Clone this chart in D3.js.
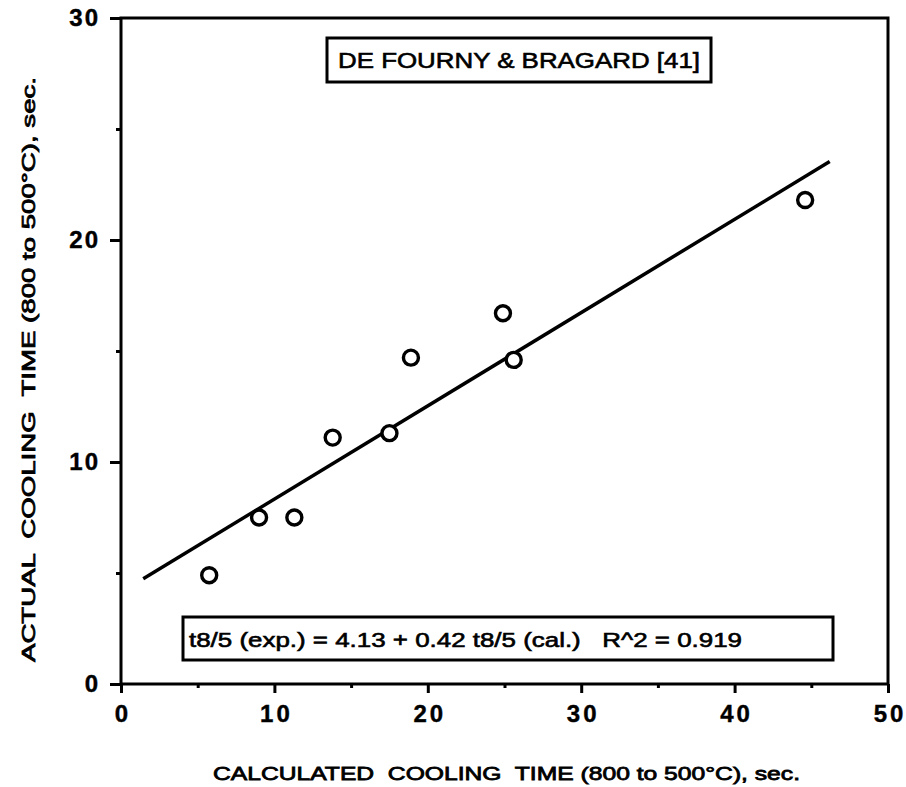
<!DOCTYPE html>
<html>
<head>
<meta charset="utf-8">
<script src="https://cdn.jsdelivr.net/npm/d3@7"></script>
<style>
  html, body { margin: 0; padding: 0; background: #fff; }
  svg { display: block; }
  text { font-family: "Liberation Sans", Arial, Helvetica, sans-serif; fill: #000; white-space: pre; }
</style>
</head>
<body>
<svg id="chart" width="906" height="787"></svg>
<script>
// Calculated vs. actual t8/5 cooling times (s)
const calculated = [5.75, 9.0, 11.3, 13.8, 17.5, 18.9, 24.9, 25.6, 44.6];
const actual     = [4.9, 7.5, 7.5, 11.1, 11.3, 14.7, 16.7, 14.6, 21.8];

// Fitted relation printed in the lower box
const fitIntercept = 4.13;
const fitSlope = 0.42;
const fitR2 = 0.919;
const fitRange = [1.45, 46.2];

const xMajorTicks = [0, 10, 20, 30, 40, 50];
const xMinorTicks = [5, 15, 25, 35, 45];
const yMajorTicks = [0, 10, 20, 30];
const yMinorTicks = [5, 15, 25];

const titleText = "DE FOURNY & BRAGARD [41]";
const xTitle = "CALCULATED  COOLING  TIME (800 to 500\u00B0C), sec.";
const yTitle = "ACTUAL  COOLING  TIME (800 to 500\u00B0C), sec.";

const svg = d3.select("#chart");
const x = d3.scaleLinear().domain([0, 50]).range([121, 888]);
const y = d3.scaleLinear().domain([0, 30]).range([684, 18]);

// Frame
svg.append("rect")
  .attr("x", x(0)).attr("y", y(30))
  .attr("width", x(50) - x(0)).attr("height", y(0) - y(30))
  .attr("fill", "none").attr("stroke", "#000").attr("stroke-width", 3);

// X axis (ticks outward, minor ticks short)
const gx = svg.append("g").attr("transform", `translate(0,${y(0)})`);
gx.call(d3.axisBottom(x).tickValues(xMajorTicks).tickSize(9).tickPadding(12).tickFormat(d3.format("d")))
  .call(g => g.select(".domain").remove())
  .call(g => g.selectAll(".tick line").attr("stroke-width", 3))
  .call(g => g.selectAll(".tick text")
    .style("font-size", "24px").style("font-weight", "bold")
    .attr("letter-spacing", 3).attr("dx", 1.5)
    .attr("stroke", "#000").attr("stroke-width", 0.4));
gx.append("g").call(d3.axisBottom(x).tickValues(xMinorTicks).tickSize(4).tickFormat(""))
  .call(g => g.select(".domain").remove())
  .call(g => g.selectAll(".tick line").attr("stroke-width", 3));

// Y axis
const gy = svg.append("g").attr("transform", `translate(${x(0)},0)`);
gy.call(d3.axisLeft(y).tickValues(yMajorTicks).tickSize(11).tickPadding(10).tickFormat(d3.format("d")))
  .call(g => g.select(".domain").remove())
  .call(g => g.selectAll(".tick line").attr("stroke-width", 3))
  .call(g => g.selectAll(".tick text")
    .style("font-size", "24px").style("font-weight", "bold")
    .attr("letter-spacing", 2)
    .attr("stroke", "#000").attr("stroke-width", 0.4));
gy.append("g").call(d3.axisLeft(y).tickValues(yMinorTicks).tickSize(5).tickFormat(""))
  .call(g => g.select(".domain").remove())
  .call(g => g.selectAll(".tick line").attr("stroke-width", 3));

// Regression line
const line = d3.line().x(d => x(d)).y(d => y(fitIntercept + fitSlope * d));
svg.append("path")
  .datum(fitRange)
  .attr("d", line)
  .attr("fill", "none").attr("stroke", "#000").attr("stroke-width", 3.5);

// Observations
svg.append("g").selectAll("circle")
  .data(calculated.map((c, i) => [c, actual[i]]))
  .join("circle")
  .attr("cx", d => x(d[0])).attr("cy", d => y(d[1]))
  .attr("r", 7.5)
  .attr("fill", "#fff").attr("stroke", "#000").attr("stroke-width", 3.4);

// Source box
svg.append("rect")
  .attr("x", 327).attr("y", 38).attr("width", 384).attr("height", 44)
  .attr("fill", "#fff").attr("stroke", "#000").attr("stroke-width", 3);
svg.append("text")
  .attr("x", 338).attr("y", 68)
  .attr("font-size", 22)
  .attr("stroke", "#000").attr("stroke-width", 0.6)
  .attr("textLength", 362).attr("lengthAdjust", "spacingAndGlyphs")
  .text(titleText);

// Equation box
svg.append("rect")
  .attr("x", 183).attr("y", 617).attr("width", 650).attr("height", 43)
  .attr("fill", "#fff").attr("stroke", "#000").attr("stroke-width", 3);
svg.append("text")
  .attr("x", 189).attr("y", 647)
  .attr("font-size", 20)
  .attr("stroke", "#000").attr("stroke-width", 0.6)
  .attr("textLength", 553).attr("lengthAdjust", "spacingAndGlyphs")
  .text(`t8/5 (exp.) = ${fitIntercept.toFixed(2)} + ${fitSlope.toFixed(2)} t8/5 (cal.)   R^2 = ${fitR2}`);

// Axis titles
svg.append("text")
  .attr("x", 213).attr("y", 780)
  .attr("font-size", 19)
  .attr("stroke", "#000").attr("stroke-width", 0.8)
  .attr("textLength", 587).attr("lengthAdjust", "spacingAndGlyphs")
  .text(xTitle);

svg.append("text")
  .attr("transform", "translate(35,662) rotate(-90)")
  .attr("font-size", 19)
  .attr("stroke", "#000").attr("stroke-width", 0.8)
  .attr("textLength", 585).attr("lengthAdjust", "spacingAndGlyphs")
  .text(yTitle);
</script>
</body>
</html>
